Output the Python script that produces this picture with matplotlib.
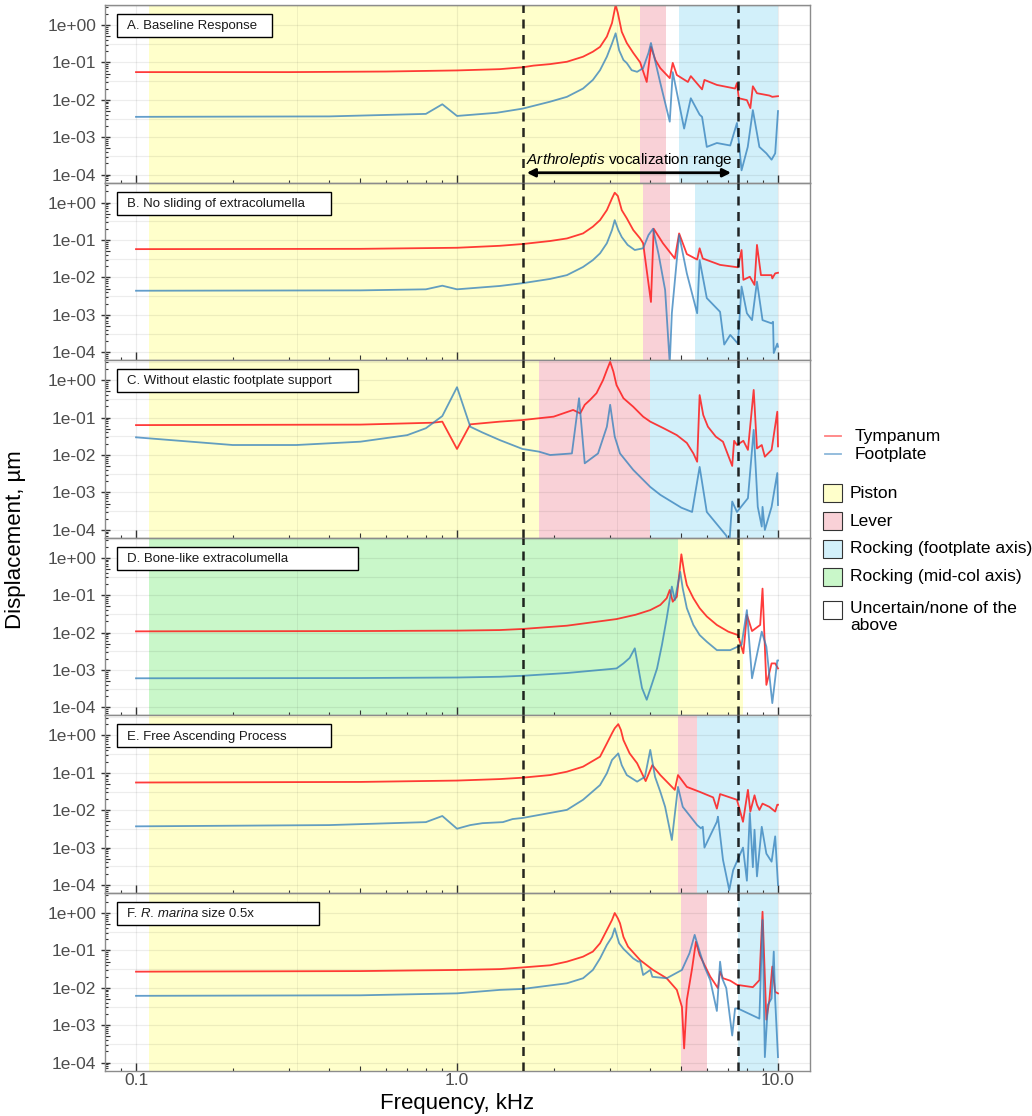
import matplotlib
matplotlib.use("Agg")
import matplotlib.pyplot as plt
from matplotlib.patches import Rectangle
from matplotlib.lines import Line2D
from matplotlib.ticker import FixedLocator, NullFormatter, FixedFormatter

plt.rcParams['font.family'] = ['Liberation Sans', 'DejaVu Sans']
plt.rcParams['mathtext.fontset'] = 'custom'
plt.rcParams['mathtext.rm'] = 'Liberation Sans'
plt.rcParams['mathtext.it'] = 'Liberation Sans:italic'

# ---------------- data (frequency in kHz, displacement in um) ----------------
A_f_tym = [0.1, 0.3, 0.6, 1.0, 1.36, 1.6, 1.73, 1.95, 2.2, 2.47, 2.65, 2.79, 2.93, 3.04, 3.12, 3.17,
           3.26, 3.38, 3.54, 3.72, 3.9, 4.02, 4.15, 4.3, 4.6, 4.7, 4.84, 5.24, 5.35, 5.8, 5.9, 6.45,
           7.35, 7.45, 7.55, 8.0, 8.2, 8.35, 8.6, 9.4, 9.6, 10.0]
A_tym = [0.055, 0.055, 0.057, 0.061, 0.066, 0.074, 0.082, 0.09, 0.104, 0.142, 0.193, 0.26, 0.49, 1.13,
         3.4, 2.1, 0.66, 0.33, 0.18, 0.10, 0.03, 0.26, 0.116, 0.07, 0.038, 0.097, 0.046, 0.03, 0.043,
         0.019, 0.034, 0.025, 0.02, 0.028, 0.011, 0.0098, 0.006, 0.023, 0.015, 0.013, 0.012, 0.0125]
A_f_fp = [0.1, 0.4, 0.8, 0.9, 1.0, 1.33, 1.6, 1.95, 2.2, 2.47, 2.65, 2.79, 2.93, 3.04, 3.12, 3.2, 3.3,
          3.38, 3.5, 3.64, 3.8, 3.95, 4.02, 4.3, 4.6, 4.7, 5.1, 5.35, 5.7, 5.8, 6.0, 6.45, 7.1, 7.45,
          7.7, 8.05, 8.35, 8.75, 9.2, 9.55, 9.8, 10.0]
A_fp = [0.0035, 0.0036, 0.0042, 0.0076, 0.0037, 0.0045, 0.0058, 0.0089, 0.012, 0.02, 0.034, 0.062, 0.142,
        0.32, 0.6, 0.21, 0.116, 0.096, 0.062, 0.056, 0.07, 0.18, 0.33, 0.028, 0.0026, 0.055, 0.0017,
        0.011, 0.004, 0.0035, 0.00055, 0.0007, 0.0006, 0.0024, 0.00013, 0.00055, 0.0053, 0.00055,
        0.00037, 0.00025, 0.00037, 0.005]

B_f_tym = [0.1, 0.5, 1.0, 1.36, 1.6, 1.95, 2.2, 2.47, 2.65, 2.79, 2.93, 3.04, 3.1, 3.17, 3.26, 3.38,
           3.54, 3.72, 3.8, 4.02, 4.1, 4.38, 4.77, 4.92, 5.2, 5.6, 5.7, 5.83, 6.6, 7.5, 7.7, 7.8, 8.17,
           8.45, 8.6, 8.85, 9.55, 9.6, 9.8, 10.0]
B_tym = [0.057, 0.058, 0.062, 0.07, 0.078, 0.094, 0.11, 0.15, 0.227, 0.34, 0.63, 1.3, 1.84, 1.5, 0.63,
         0.38, 0.185, 0.11, 0.082, 0.0022, 0.2, 0.082, 0.032, 0.15, 0.042, 0.030, 0.06, 0.032, 0.0216,
         0.0186, 0.054, 0.0086, 0.0104, 0.0063, 0.074, 0.0115, 0.0115, 0.0094, 0.0128, 0.0133]
B_f_fp = [0.1, 0.5, 0.8, 0.9, 1.0, 1.36, 1.6, 1.95, 2.2, 2.47, 2.65, 2.79, 2.93, 3.04, 3.1, 3.18, 3.26,
          3.4, 3.58, 3.8, 3.95, 4.08, 4.25, 4.45, 4.6, 4.67, 4.92, 5.2, 5.6, 5.7, 6.0, 6.6, 6.8, 7.1,
          7.5, 7.7, 8.0, 8.3, 8.6, 8.95, 9.55, 9.65, 9.7, 9.95, 10.0]
B_fp = [0.0044, 0.0045, 0.0048, 0.006, 0.0048, 0.0059, 0.0070, 0.0091, 0.0115, 0.019, 0.029, 0.044,
        0.082, 0.185, 0.34, 0.185, 0.12, 0.074, 0.054, 0.06, 0.136, 0.2, 0.04, 0.0046, 0.00005, 0.0011,
        0.136, 0.0128, 0.0011, 0.029, 0.0028, 0.0012, 0.00016, 0.00029, 0.00017, 0.0057, 0.0011,
        0.00072, 0.0077, 0.00072, 0.00059, 0.00065, 0.000095, 0.00017, 0.00014]

C_f_tym = [0.1, 0.5, 0.84, 0.9, 1.0, 1.1, 1.36, 1.6, 1.8, 2.0, 2.3, 2.42, 2.5, 2.6, 2.72, 2.85, 2.93,
           3.0, 3.07, 3.14, 3.3, 3.54, 3.8, 4.0, 4.4, 4.84, 5.2, 5.45, 5.6, 5.7, 5.85, 6.05, 6.4, 6.74,
           7.2, 7.3, 7.45, 7.8, 8.06, 8.4, 8.6, 8.9, 9.1, 9.55, 9.95, 10.0]
C_tym = [0.063, 0.065, 0.073, 0.078, 0.0145, 0.066, 0.078, 0.086, 0.096, 0.106, 0.16, 0.13, 0.22, 0.3,
         0.45, 1.0, 1.87, 3.1, 1.7, 0.74, 0.33, 0.195, 0.106, 0.078, 0.052, 0.034, 0.021, 0.011, 0.0066,
         0.4, 0.117, 0.057, 0.031, 0.0226, 0.0051, 0.024, 0.0185, 0.024, 0.0137, 0.55, 0.015, 0.0185,
         0.009, 0.0137, 0.144, 0.017]
C_f_fp = [0.1, 0.2, 0.316, 0.5, 0.7, 0.8, 0.9, 1.0, 1.1, 1.2, 1.36, 1.6, 1.8, 1.95, 2.28, 2.4, 2.5,
          2.75, 2.93, 3.0, 3.1, 3.22, 3.54, 4.0, 4.3, 5.0, 5.4, 5.7, 6.0, 6.9, 7.05, 7.2, 7.45, 8.06,
          8.4, 8.65, 8.9, 8.95, 9.1, 9.55, 9.95, 10.0]
C_fp = [0.0297, 0.0185, 0.0185, 0.0227, 0.034, 0.052, 0.11, 0.65, 0.057, 0.04, 0.025, 0.0145, 0.0123,
        0.01, 0.011, 0.33, 0.006, 0.011, 0.057, 0.22, 0.031, 0.011, 0.004, 0.0014, 0.00086, 0.00039,
        0.0003, 0.0048, 0.0003, 0.00007, 0.00004, 0.00057, 0.0003, 0.0007, 0.047, 0.00041, 0.000122,
        0.00041, 0.000099, 0.00041, 0.0033, 0.00046]

D_f_tym = [0.1, 0.5, 1.0, 1.36, 1.6, 2.2, 3.14, 3.6, 4.0, 4.3, 4.5, 4.6, 4.7, 4.84, 5.0, 5.1, 5.2, 5.45,
           5.7, 6.0, 6.45, 7.0, 7.5, 7.8, 8.0, 8.3, 8.8, 8.95, 9.2, 9.55, 9.8, 10.0]
D_tym = [0.0108, 0.011, 0.0113, 0.0117, 0.0125, 0.0153, 0.023, 0.03, 0.04, 0.055, 0.083, 0.138, 0.067,
         0.091, 1.24, 0.42, 0.187, 0.083, 0.045, 0.027, 0.016, 0.0106, 0.0086, 0.0028, 0.03, 0.011,
         0.016, 0.15, 0.0004, 0.0015, 0.0015, 0.0011]
D_f_fp = [0.1, 0.5, 1.0, 1.36, 1.6, 2.2, 3.14, 3.3, 3.45, 3.58, 3.77, 3.9, 4.2, 4.35, 4.5, 4.67, 4.77,
          4.96, 5.05, 5.2, 5.45, 5.7, 6.0, 6.45, 7.1, 7.7, 8.0, 8.3, 8.9, 9.2, 9.6, 9.95, 10.0]
D_fp = [0.00060, 0.00061, 0.00063, 0.00066, 0.0007, 0.00083, 0.0011, 0.0015, 0.0021, 0.0038, 0.00033,
        0.00016, 0.0011, 0.0047, 0.024, 0.17, 0.074, 0.42, 0.15, 0.045, 0.016, 0.0086, 0.0057, 0.0034,
        0.0034, 0.0047, 0.04, 0.0006, 0.0106, 0.0042, 0.00013, 0.0018, 0.0018]

E_f_tym = [0.1, 0.5, 1.0, 1.36, 1.6, 1.95, 2.2, 2.47, 2.79, 2.93, 3.04, 3.1, 3.18, 3.24, 3.3, 3.45,
           3.64, 3.87, 4.06, 4.3, 4.77, 4.88, 5.2, 5.7, 6.28, 6.45, 6.6, 7.45, 7.78, 8.06, 8.2, 8.45,
           8.6, 8.75, 8.95, 9.4, 9.8, 9.95, 10.0]
E_tym = [0.055, 0.057, 0.062, 0.068, 0.074, 0.087, 0.107, 0.146, 0.27, 0.61, 1.14, 1.55, 2.0, 1.4, 0.75,
         0.33, 0.18, 0.06, 0.16, 0.087, 0.035, 0.087, 0.042, 0.031, 0.022, 0.011, 0.027, 0.019, 0.0049,
         0.035, 0.0092, 0.025, 0.014, 0.0102, 0.015, 0.0123, 0.0092, 0.014, 0.014]
E_f_fp = [0.1, 0.4, 0.8, 0.9, 1.0, 1.1, 1.2, 1.39, 1.49, 1.6, 2.2, 2.47, 2.79, 2.93, 3.04, 3.18, 3.26,
          3.38, 3.64, 3.85, 4.0, 4.14, 4.3, 4.45, 4.67, 4.88, 5.05, 5.6, 5.75, 5.83, 5.9, 6.45, 6.5,
          6.74, 7.05, 7.25, 7.78, 8.0, 8.17, 8.35, 8.45, 8.6, 8.9, 9.2, 9.55, 9.8, 10.0]
E_fp = [0.0037, 0.004, 0.0048, 0.007, 0.0032, 0.004, 0.0045, 0.0048, 0.0058, 0.0062, 0.0102, 0.019,
        0.047, 0.097, 0.22, 0.33, 0.16, 0.087, 0.058, 0.078, 0.41, 0.078, 0.031, 0.0123, 0.0016, 0.042,
        0.0123, 0.004, 0.0033, 0.0036, 0.001, 0.0049, 0.0067, 0.00047, 0.000073, 0.00025, 0.001,
        0.00013, 0.0083, 0.0003, 0.003, 0.00017, 0.0036, 0.00069, 0.00042, 0.002, 0.0001]

F_f_tym = [0.1, 0.5, 1.0, 1.36, 1.6, 1.95, 2.2, 2.47, 2.65, 2.79, 2.93, 3.04, 3.1, 3.17, 3.22, 3.3,
           3.41, 3.72, 4.08, 4.5, 4.84, 5.02, 5.1, 5.2, 5.4, 5.55, 5.7, 6.15, 6.5, 6.6, 6.74, 7.1, 7.45,
           8.35, 8.75, 8.95, 9.2, 9.4, 9.6, 9.8, 10.0]
F_tym = [0.027, 0.028, 0.030, 0.0316, 0.035, 0.04, 0.05, 0.068, 0.093, 0.155, 0.35, 0.65, 1.0, 0.72,
         0.53, 0.23, 0.126, 0.055, 0.03, 0.018, 0.0088, 0.0031, 0.00024, 0.0047, 0.033, 0.17, 0.075,
         0.02, 0.0098, 0.027, 0.018, 0.0155, 0.012, 0.0104, 0.016, 1.08, 0.0014, 0.0047, 0.037, 0.0078,
         0.0071]
F_f_fp = [0.1, 0.5, 1.0, 1.36, 1.6, 2.2, 2.47, 2.65, 2.79, 2.93, 3.04, 3.1, 3.2, 3.3, 3.54, 3.67, 3.72,
          3.8, 4.0, 4.06, 4.5, 5.02, 5.3, 5.5, 5.6, 5.7, 5.9, 6.15, 6.45, 6.6, 6.7, 6.9, 7.2, 7.35, 7.5,
          8.75, 8.95, 9.1, 9.3, 9.55, 9.7, 9.8, 10.0]
F_fp = [0.0061, 0.0063, 0.0071, 0.0088, 0.0093, 0.0132, 0.018, 0.030, 0.061, 0.14, 0.23, 0.39, 0.155,
        0.11, 0.061, 0.05, 0.052, 0.022, 0.03, 0.0197, 0.018, 0.030, 0.084, 0.26, 0.155, 0.093, 0.037,
        0.016, 0.0024, 0.05, 0.018, 0.0098, 0.00053, 0.0028, 0.0028, 0.0015, 0.65, 0.00014, 0.0035,
        0.0052, 0.093, 0.0047, 0.00014]

# motion-mode bands: (start kHz, end kHz, mode)
A_modes = [(0.11, 3.72, 'Piston'), (3.72, 4.48, 'Lever'), (4.92, 10.0, 'Rocking (footplate axis)')]
B_modes = [(0.11, 3.8, 'Piston'), (3.8, 4.6, 'Lever'), (5.5, 10.0, 'Rocking (footplate axis)')]
C_modes = [(0.11, 1.8, 'Piston'), (1.8, 4.0, 'Lever'), (4.0, 10.0, 'Rocking (footplate axis)')]
D_modes = [(0.11, 4.88, 'Rocking (mid-col axis)'), (4.88, 7.8, 'Piston')]
E_modes = [(0.11, 4.88, 'Piston'), (4.88, 5.6, 'Lever'), (5.6, 10.0, 'Rocking (footplate axis)')]
F_modes = [(0.11, 5.0, 'Piston'), (5.0, 6.0, 'Lever'), (7.5, 10.0, 'Rocking (footplate axis)')]

# panel titles as runs of (text, font style)
panel_titles = [[("A. Baseline Response", 'normal')],
                [("B. No sliding of extracolumella", 'normal')],
                [("C. Without elastic footplate support", 'normal')],
                [("D. Bone-like extracolumella", 'normal')],
                [("E. Free Ascending Process", 'normal')],
                [("F. ", 'normal'), ("R. marina", 'italic'), (" size 0.5x", 'normal')]]
title_box_px = [155, 214, 241, 241, 214, 202]

vocal_range = [1.6, 7.5]          # kHz, dashed guides
arrow_range = [1.65, 7.14]        # kHz, vocalization arrow

mode_names = ['Piston', 'Lever', 'Rocking (footplate axis)', 'Rocking (mid-col axis)',
              'Uncertain/none of the\nabove']
mode_colors = {'Piston': '#FFFFCB', 'Lever': '#F9D1D7',
               'Rocking (footplate axis)': '#D2F0FA', 'Rocking (mid-col axis)': '#C9F7C9',
               'Uncertain/none of the\nabove': '#FFFFFF'}

TYM_COLOR = '#FF1A1A'
FP_COLOR = '#2F7EBB'

panels = [(A_f_tym, A_tym, A_f_fp, A_fp, A_modes),
          (B_f_tym, B_tym, B_f_fp, B_fp, B_modes),
          (C_f_tym, C_tym, C_f_fp, C_fp, C_modes),
          (D_f_tym, D_tym, D_f_fp, D_fp, D_modes),
          (E_f_tym, E_tym, E_f_fp, E_fp, E_modes),
          (F_f_tym, F_tym, F_f_fp, F_fp, F_modes)]

# ---------------- layout ----------------
W, H = 1032, 1116
fig = plt.figure(figsize=(W / 100, H / 100), dpi=100)

left_px, right_px, top_px, panel_px = 105, 810, 5, 177.6
XLIM = (10 ** -1.0966, 10 ** 1.0997)
YLIM = (10 ** -4.2139, 10 ** 0.5348)

decades_x = [0.1, 1.0, 10.0]
decades_y = [1e-4, 1e-3, 1e-2, 1e-1, 1e0]
minor_x = [m * d for d in [0.01, 0.1, 1.0, 10.0] for m in (2, 3, 4, 6, 7, 8, 9)]
mid_x = [5 * d for d in [0.01, 0.1, 1.0, 10.0]]
minor_y = [m * d for d in [1e-5, 1e-4, 1e-3, 1e-2, 1e-1, 1e0] for m in (2, 3, 4, 6, 7, 8, 9)]
mid_y = [5 * d for d in [1e-5, 1e-4, 1e-3, 1e-2, 1e-1, 1e0]]
grid_x = [0.1, 10 ** -0.5, 1.0, 10 ** 0.5, 10.0]
grid_y = [10 ** (e / 2) for e in range(-9, 2)]

TICK_C = '#333333'
LBL_C = '#4D4D4D'
px2pt = 72 / 100
TITLE_SIZE = 9.5

axes = []
for k, (ft, yt, ff, yf, modes) in enumerate(panels):
    bottom = 1 - (top_px + (k + 1) * panel_px) / H
    ax = fig.add_axes([left_px / W, bottom, (right_px - left_px) / W, panel_px / H])
    axes.append(ax)
    ax.set_xscale('log')
    ax.set_yscale('log')
    ax.set_xlim(*XLIM)
    ax.set_ylim(*YLIM)

    for x0, x1, mode in modes:
        ax.axvspan(x0, x1, color=mode_colors[mode], lw=0, zorder=0)
    for g in grid_x:
        ax.axvline(g, color='black', alpha=0.07, lw=0.9 if g in decades_x else 0.6, zorder=0.5)
    for g in grid_y:
        ax.axhline(g, color='black', alpha=0.07, lw=0.9, zorder=0.5)

    for xv in vocal_range:
        ax.axvline(xv, color='black', alpha=0.85, lw=1.8, ls=(0, (3.6, 2.6)), zorder=3)

    ax.plot(ft, yt, color=TYM_COLOR, lw=1.3, alpha=0.85, zorder=2)
    ax.plot(ff, yf, color=FP_COLOR, lw=1.3, alpha=0.75, zorder=2)

    for s in ax.spines.values():
        s.set_color('#8C8C8C')
        s.set_linewidth(1.0)

    # log ticks: long at decades, short at the others
    ax.xaxis.set_major_locator(FixedLocator(decades_x))
    ax.xaxis.set_minor_locator(FixedLocator(minor_x))
    ax.yaxis.set_major_locator(FixedLocator(decades_y))
    ax.yaxis.set_minor_locator(FixedLocator(minor_y))
    ax.xaxis.set_minor_formatter(NullFormatter())
    ax.yaxis.set_minor_formatter(NullFormatter())
    ax.yaxis.set_major_formatter(FixedFormatter(['1e-04', '1e-03', '1e-02', '1e-01', '1e+00']))
    if k == len(panels) - 1:
        ax.xaxis.set_major_formatter(FixedFormatter(['0.1', '1.0', '10.0']))
    else:
        ax.xaxis.set_major_formatter(NullFormatter())
    ax.tick_params(axis='x', which='major', direction='in', length=8 * px2pt, width=1.0,
                   color=TICK_C, labelsize=12.5, labelcolor=LBL_C, pad=2)
    ax.tick_params(axis='x', which='minor', direction='in', length=3 * px2pt, width=0.8, color=TICK_C)
    ax.tick_params(axis='y', which='major', direction='inout', length=9 * px2pt, width=1.0,
                   color=TICK_C, labelsize=12.5, labelcolor=LBL_C, pad=3)
    ax.tick_params(axis='y', which='minor', direction='in', length=3 * px2pt, width=0.8, color=TICK_C)

    # medium ticks at 5 x 10^n
    sx = ax.secondary_xaxis('bottom')
    sx.set_xticks(mid_x)
    sx.xaxis.set_major_formatter(NullFormatter())
    sx.tick_params(direction='in', length=5 * px2pt, width=0.8, color=TICK_C)
    sx.xaxis.set_minor_locator(FixedLocator([]))
    sx.spines['bottom'].set_visible(False)
    sy = ax.secondary_yaxis('left')
    sy.set_yticks(mid_y)
    sy.yaxis.set_major_formatter(NullFormatter())
    sy.tick_params(direction='in', length=5 * px2pt, width=0.8, color=TICK_C)
    sy.yaxis.set_minor_locator(FixedLocator([]))
    sy.spines['left'].set_visible(False)

    # panel title box
    bx = (117 - left_px) / (right_px - left_px)
    bw = title_box_px[k] / (right_px - left_px)
    bh = 23 / panel_px
    by = 1 - (9 + 23) / panel_px
    ax.add_patch(Rectangle((bx, by), bw, bh, transform=ax.transAxes, facecolor='white',
                           edgecolor='black', lw=1.0, zorder=5))
    runs = panel_titles[k]
    prev = ax.text((127 - left_px) / (right_px - left_px), by + bh / 2 - 0.004, runs[0][0],
                   transform=ax.transAxes, ha='left', va='center', fontsize=TITLE_SIZE,
                   style=runs[0][1], color='#1A1A1A', zorder=6)
    for txt, st in runs[1:]:
        prev = ax.annotate(txt, xy=(1, 0), xycoords=prev, ha='left', va='bottom',
                           fontsize=TITLE_SIZE, style=st, color='#1A1A1A', zorder=6)

# vocalization range arrow in panel A
axA = axes[0]
axA.annotate('', xy=(arrow_range[1], 1.12e-4), xytext=(arrow_range[0], 1.12e-4),
             arrowprops=dict(arrowstyle='<|-|>', lw=2.0, color='black', mutation_scale=12,
                             shrinkA=0, shrinkB=0), zorder=6)
axA.text((arrow_range[0] * arrow_range[1]) ** 0.5, 2.45e-4,
         r'$\mathit{Arthroleptis}$ vocalization range', ha='center', va='center',
         fontsize=11, color='black', zorder=6)

# axis titles
fig.text(457 / W, 1 - 1104 / H, 'Frequency, kHz', ha='center', va='center', fontsize=16)
fig.text(16 / W, 1 - 540 / H, 'Displacement, µm', ha='center', va='center', rotation=90,
         fontsize=16)

# legend
def fx(px):
    return px / W


def fy(py):
    return 1 - py / H


for name, color, alpha, ypx in [('Tympanum', TYM_COLOR, 0.55, 436), ('Footplate', FP_COLOR, 0.55, 454)]:
    fig.add_artist(Line2D([fx(825), fx(841)], [fy(ypx), fy(ypx)], color=color, alpha=alpha, lw=1.3))
    fig.text(fx(855), fy(ypx), name, ha='left', va='center', fontsize=12.5, color='black')

box_centers = [493, 521, 549, 577, 610]
for name, cy in zip(mode_names, box_centers):
    fig.add_artist(Rectangle((fx(823), fy(cy + 9)), 19 / W, 18 / H, transform=fig.transFigure,
                             facecolor=mode_colors[name], edgecolor='#333333', lw=0.8))
    if '\n' in name:
        fig.text(fx(850), fy(cy - 9), name, ha='left', va='top', fontsize=12.5,
                 linespacing=1.15, color='black')
    else:
        fig.text(fx(850), fy(cy), name, ha='left', va='center', fontsize=12.5, color='black')

fig.savefig('out.png', dpi=100)
